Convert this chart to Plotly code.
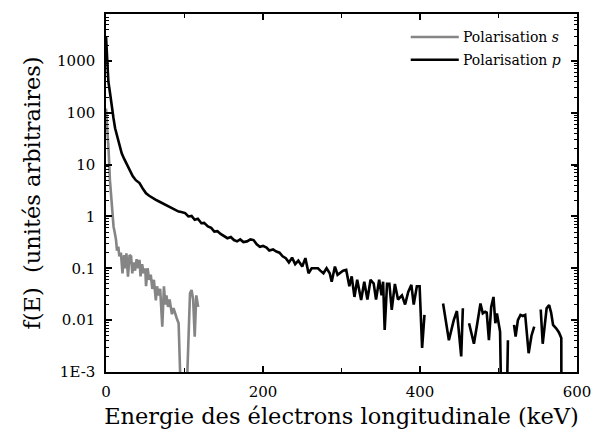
import numpy as np
import plotly.graph_objects as go

# Longitudinal electron energy spectra (keV) for s and p polarisation.
# None marks a break in the measured curve; tiny values fall below the axis floor.
energy_p = [0, 1.2, 3, 5.4, 7.5, 9.5, 11.6, 13.7, 15.7, 18, 20, 23, 26, 30, 34, 38,
            42.7, 47, 51, 55, 59, 63, 67.6, 72, 76, 80, 84, 88, 92.5, 96, 100.8,
            105, 109, 113, 117, 121.5, 125, 129.8, 134, 138, 142, 146, 150, 154.7,
            159, 163, 167, 171, 175, 179.6, 184, 188, 192, 196, 200, 204.5, 208,
            212.8, 217, 221, 225, 229, 233, 237, 241, 245, 250, 254, 258, 262, 266,
            270, 273, 277, 281, 285, 287.5, 291.6, 295, 299, 302, 306, 310, 313,
            316.5, 320, 325, 329, 333, 337, 341, 344, 348, 351, 353, 355, 358, 361,
            364, 368, 372, 377, 381, 385, 389, 392, 396, 399.5, 402.7, 405.7,
            None,
            429.4, 436.8, 443, 447, 452.5, 454.6,
            None,
            462.5, 468.7, 473, 477, 480, 483, 485, 487.8, 490.7, 493.6, 496, 498,
            502, 505, 509, 512,
            None,
            519.8, 521.8, 524.7, 528, 531, 534, 538.4, 542, 545.5,
            None,
            553.8, 556.3, 561.3, 564.5, 567, 569.5, 573.7, 577, 580, 580.3]
flux_p = [3000, 1000, 400, 224, 120, 79, 50, 37, 27, 20, 16.5, 13, 10.7, 8, 6, 5,
          4.4, 3.4, 2.8, 2.5, 2.25, 2.1, 1.94, 1.8, 1.67, 1.55, 1.45, 1.35, 1.24,
          1.22, 1.16, 1.0, 1.02, 0.86, 0.9, 0.74, 0.75, 0.64, 0.6, 0.51, 0.52, 0.46,
          0.42, 0.38, 0.4, 0.35, 0.33, 0.36, 0.32, 0.33, 0.36, 0.35, 0.29, 0.26,
          0.27, 0.25, 0.22, 0.23, 0.21, 0.2, 0.17, 0.157, 0.13, 0.16, 0.12, 0.14,
          0.108, 0.157, 0.08, 0.1, 0.1, 0.1, 0.09, 0.08, 0.1, 0.08, 0.055, 0.108,
          0.075, 0.085, 0.09, 0.093, 0.045, 0.07, 0.028, 0.06, 0.0245, 0.055,
          0.025, 0.06, 0.051, 0.025, 0.06, 0.03, 0.055, 0.0065, 0.05, 0.05, 0.0158,
          0.05, 0.025, 0.03, 0.02, 0.035, 0.048, 0.02, 0.045, 0.045, 0.0029, 0.0126,
          None,
          0.021, 0.0041, 0.01, 0.015, 0.002, 0.017,
          None,
          0.0087, 0.0035, 0.0087, 0.021, 0.0135, 0.0145, 0.014, 0.0041, 0.018,
          0.028, 0.0087, 0.0135, 0.006, 1e-5, 1e-5, 0.0041,
          None,
          0.0081, 0.0048, 0.01, 0.0126, 0.012, 0.0126, 0.0023, 0.005, 0.0075,
          None,
          0.016, 0.0035, 0.0169, 0.0195, 0.014, 0.0081, 0.0069, 0.0058, 0.0045, 1e-5]

energy_s = [0, 1.5, 3.3, 5, 7, 9.6, 11, 12.8, 14, 15.7, 17, 19, 21, 23, 24.5, 26,
            28, 30, 32, 33.5, 35, 37, 39, 41, 42.7, 44, 46, 48, 50, 51, 53, 55, 57,
            59, 61, 63.5, 65, 67, 69, 71.7, 73.8, 75.5, 77, 79, 81, 84, 86, 88, 90,
            92.5, 95, 103, 107, 109, 111, 113, 115, 117.4]
flux_s = [120, 60, 19, 5, 1.8, 0.64, 0.5, 0.35, 0.22, 0.26, 0.17, 0.2, 0.08, 0.18,
          0.1, 0.195, 0.069, 0.18, 0.17, 0.08, 0.13, 0.09, 0.15, 0.1, 0.145, 0.07,
          0.12, 0.08, 0.1, 0.045, 0.1, 0.06, 0.075, 0.04, 0.06, 0.024, 0.045, 0.03,
          0.04, 0.0075, 0.045, 0.02, 0.03, 0.018, 0.025, 0.013, 0.017, 0.013, 0.011,
          0.0087, 5e-4, 5e-4, 0.033, 0.038, 0.025, 0.0048, 0.03, 0.018]

x_ticks = [0, 200, 400, 600]
x_minor = [100, 300, 500]
y_ticks = [1e-3, 1e-2, 1e-1, 1, 10, 100, 1000]
y_labels = ["1E-3", "0.01", "0.1", "1", "10", "100", "1000"]

series = [
    ("Polarisation <i>s</i>", energy_s, flux_s, "#858585"),
    ("Polarisation <i>p</i>", energy_p, flux_p, "#000000"),
]

SERIF = "DejaVu Serif"

# minor log ticks at 2..9 x each decade
y_minor = [k * 10.0 ** n for n in range(-3, 4) for k in range(2, 10) if k * 10.0 ** n < 8000]

fig = go.Figure()
for name, xs, ys, col in series:
    fig.add_trace(go.Scatter(x=xs, y=ys, mode="lines", name=name,
                             line=dict(color=col, width=2.6),
                             connectgaps=False, showlegend=False))

# legend drawn as line samples + labels in the upper right corner
leg_rows = [(0.936, series[0]), (0.872, series[1])]
for yp, (name, _, _, col) in leg_rows:
    fig.add_shape(type="line", xref="paper", yref="paper",
                  x0=0.647, x1=0.749, y0=yp, y1=yp,
                  line=dict(color=col, width=2.5))
    fig.add_annotation(xref="paper", yref="paper", x=0.753, y=yp,
                       xanchor="left", yanchor="middle", text=name,
                       showarrow=False, font=dict(family=SERIF, size=14, color="black"))

axis_common = dict(showline=True, linecolor="black", linewidth=1.5, mirror="allticks",
                   ticks="inside", tickcolor="black", tickwidth=1.5,
                   showgrid=False, zeroline=False,
                   tickfont=dict(family=SERIF, size=15, color="black"))

fig.update_xaxes(range=[0, 600], tickmode="array", tickvals=x_ticks,
                 ticklen=6, ticklabelstandoff=5,
                 minor=dict(tickmode="array", tickvals=x_minor, ticks="inside",
                            ticklen=4, tickwidth=1.2, tickcolor="black"),
                 title=dict(text="Energie des électrons longitudinale (keV)",
                            font=dict(family=SERIF, size=22.5, color="black"), standoff=8),
                 **axis_common)
fig.update_yaxes(type="log", range=[-3, np.log10(8000)], tickmode="array",
                 tickvals=y_ticks, ticktext=y_labels, ticklen=6, ticklabelstandoff=6,
                 minor=dict(tickmode="array", tickvals=y_minor, ticks="inside",
                            ticklen=3, tickwidth=1, tickcolor="black"),
                 title=dict(text="f(E)\u00a0\u00a0(unités arbitraires)",
                            font=dict(family=SERIF, size=22.5, color="black"), standoff=10),
                 **axis_common)

fig.update_layout(width=603, height=440, margin=dict(l=106, r=15, t=14, b=68),
                  plot_bgcolor="white", paper_bgcolor="white",
                  font=dict(family=SERIF, color="black"))

fig.write_html("out.html")
